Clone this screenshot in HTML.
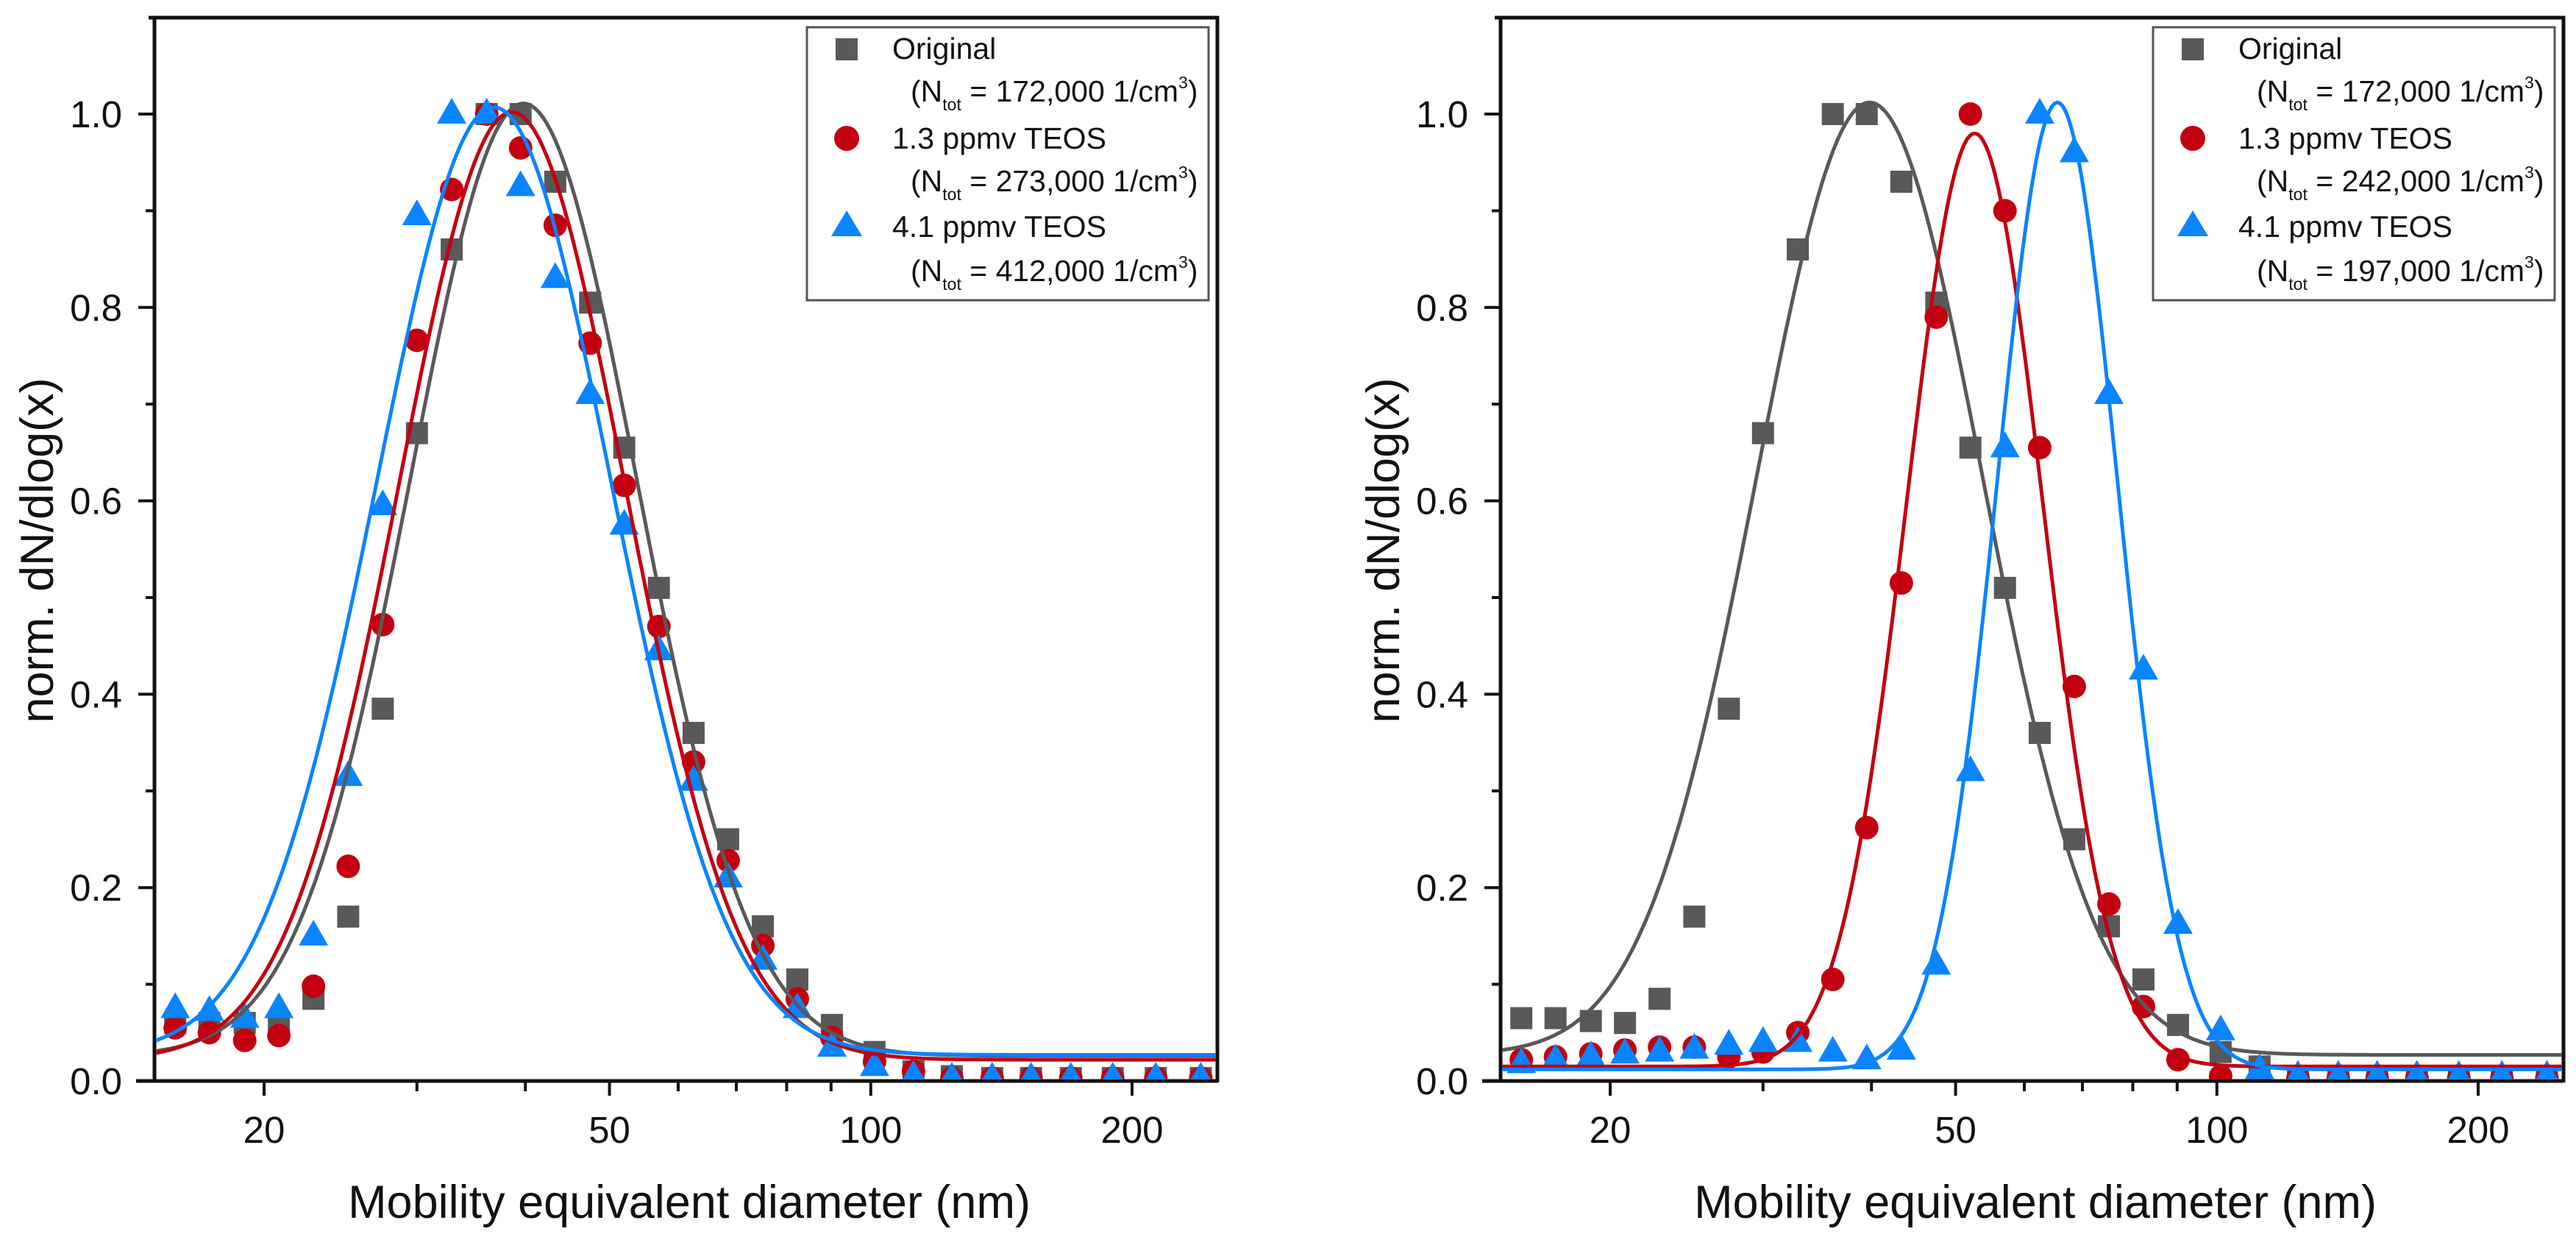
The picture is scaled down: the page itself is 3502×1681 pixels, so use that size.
<!DOCTYPE html>
<html><head><meta charset="utf-8"><style>
html,body{margin:0;padding:0;background:#fff;}
svg{display:block;font-family:"Liberation Sans",Arial,sans-serif;}
</style></head><body>
<svg id="chart" width="3502" height="1681" viewBox="0 0 3502 1681" xmlns="http://www.w3.org/2000/svg">
<defs>
<clipPath id="clipL"><rect x="212" y="26" width="1441" height="1441"/></clipPath>
<clipPath id="clipR"><rect x="2042" y="26" width="1441" height="1441"/></clipPath>
</defs>
</svg>
<script>
// ---- data (diameters in nm, normalized dN/dlog(x)) ----
const diameters = [15.8,17.3,19.0,20.8,22.8,25.0,27.4,30.0,32.9,36.1,39.5,43.3,47.5,52.0,57.0,62.5,68.5,75.1,82.3,90.2,101,112,124,138,153,170,190,213,240];
const leftOriginal = [0.06,0.06,0.06,0.06,0.085,0.17,0.385,0.67,0.86,1.0,1.0,0.93,0.805,0.655,0.51,0.36,0.25,0.16,0.105,0.058,0.03,0.01,0.005,0.003,0.003,0.003,0.003,0.003,0.003];
const leftTeos13 = [0.055,0.05,0.042,0.047,0.098,0.222,0.472,0.766,0.922,1.0,0.965,0.885,0.763,0.616,0.47,0.33,0.228,0.14,0.085,0.045,0.02,0.01,0.003,0.003,0.003,0.003,0.003,0.003,0.003];
const leftTeos41 = [0.075,0.072,0.065,0.075,0.15,0.315,0.595,0.895,1.0,1.0,0.925,0.83,0.71,0.575,0.445,0.31,0.21,0.125,0.075,0.035,0.015,0.005,0.003,0.003,0.003,0.003,0.003,0.003,0.003];
const rightOriginal = [0.065,0.065,0.062,0.06,0.085,0.17,0.385,0.67,0.86,1.0,1.0,0.93,0.805,0.655,0.51,0.36,0.25,0.16,0.105,0.058,0.03,0.015,0.005,0.003,0.003,0.003,0.003,0.003,0.003];
const rightTeos13 = [0.022,0.025,0.028,0.032,0.035,0.035,0.025,0.03,0.05,0.105,0.262,0.515,0.79,1.0,0.90,0.655,0.408,0.183,0.077,0.022,0.005,0.003,0.003,0.003,0.003,0.003,0.003,0.003,0.003];
const rightTeos41 = [0.018,0.022,0.025,0.028,0.03,0.033,0.037,0.04,0.04,0.03,0.022,0.032,0.12,0.32,0.655,1.0,0.96,0.71,0.425,0.162,0.052,0.012,0.005,0.005,0.005,0.005,0.005,0.005,0.005];
// lognormal fit parameters: [xc, w, A, y0]
const fitLeftOriginal = [39.8,0.30,0.985,0.026];
const fitLeftTeos13 = [38.6,0.30,0.98,0.022];
const fitLeftTeos41 = [36.8,0.31,0.98,0.027];
const fitRightOriginal = [39.8,0.30,0.985,0.027];
const fitRightTeos13 = [52.6,0.18,0.965,0.015];
const fitRightTeos41 = [65.5,0.16,1.0,0.012];
const xTicksMajor = [20,50,100,200];
const xTickLabels = ["20","50","100","200"];
const xTicksMinor = [30,40,60,70,80,90];
const yTicksMajor = [0,0.2,0.4,0.6,0.8,1.0];
const yTickLabels = ["0.0","0.2","0.4","0.6","0.8","1.0"];
const yTicksMinor = [0.1,0.3,0.5,0.7,0.9];
const legendLeft = ["172,000","273,000","412,000"];
const legendRight = ["172,000","242,000","197,000"];

const NS="http://www.w3.org/2000/svg";
const svg=document.getElementById('chart');
const GRAY="#595959", RED="#c3000f", BLUE="#0a84ff";
function mk(tag,attrs,parent){const e=document.createElementNS(NS,tag);for(const k in attrs)e.setAttribute(k,attrs[k]);(parent||svg).appendChild(e);return e;}

function drawPanel(off, name, sq, ci, tr, fO, f13, f41, leg, clip){
  const g=mk('g',{});
  
  
  const X0=210+off, XR=1655+off, YT=24, YB=1469;
  const xs=d=>X0+149+(Math.log10(d)-Math.log10(20))*1180;
  const ys=v=>YB-v*1314;
  // axes
  const ax=mk('path',{d:`M${X0-25} ${YB} H${XR} M${X0} ${YB} V${YT} M${X0-8} ${YT} H${XR} V${YB+2}`,stroke:"#111",'stroke-width':5,fill:"none"},g);
  
  
  // y ticks
  yTicksMajor.forEach((v,i)=>{
    const t=mk('line',{x1:X0-22,x2:X0,y1:ys(v),y2:ys(v),stroke:"#111",'stroke-width':4},g);
    
    
    const l=mk('text',{x:X0-44,y:ys(v)+18,'text-anchor':'end','font-size':51,fill:"#111"},g);
    l.textContent=yTickLabels[i];
    
    
  });
  yTicksMinor.forEach(v=>{
    const t=mk('line',{x1:X0-12,x2:X0,y1:ys(v),y2:ys(v),stroke:"#111",'stroke-width':4},g);
    
    
  });
  xTicksMajor.forEach((d,i)=>{
    const t=mk('line',{x1:xs(d),x2:xs(d),y1:YB,y2:YB+20,stroke:"#111",'stroke-width':4},g);
    
    
    const l=mk('text',{x:xs(d),y:1553,'text-anchor':'middle','font-size':51,fill:"#111"},g);
    l.textContent=xTickLabels[i];
    
    
  });
  xTicksMinor.forEach(d=>{
    const t=mk('line',{x1:xs(d),x2:xs(d),y1:YB,y2:YB+14,stroke:"#111",'stroke-width':4},g);
    
    
  });
  // titles
  const xt=mk('text',{x:937+off,y:1655,'text-anchor':'middle','font-size':63,fill:"#111"},g);
  xt.textContent="Mobility equivalent diameter (nm)";
  
  
  const yt=mk('text',{x:0,y:0,'text-anchor':'middle','font-size':63,fill:"#111",transform:`translate(${72+off},748) rotate(-90)`},g);
  yt.textContent="norm. dN/dlog(x)";
  
  
  // markers
  const pg=mk('g',{'clip-path':`url(#${clip})`},g);
  
  
  diameters.forEach((d,i)=>{
    const m=mk('rect',{x:xs(d)-15,y:ys(sq[i])-15,width:30,height:30,fill:GRAY},pg);
    
    
  });
  diameters.forEach((d,i)=>{
    const m=mk('circle',{cx:xs(d),cy:ys(ci[i]),r:16,fill:RED},pg);
    
    
  });
  diameters.forEach((d,i)=>{
    const cx=xs(d), cy=ys(tr[i]);
    const m=mk('polygon',{points:`${cx-20},${cy+13} ${cx+20},${cy+13} ${cx},${cy-22}`,fill:BLUE},pg);
    
    
  });
  // fit curves
  [[fO,GRAY,'original-fit'],[f13,RED,'teos-1-3-fit'],[f41,BLUE,'teos-4-1-fit']].forEach(([p,c,n])=>{
    let s="";
    for(let k=0;k<=400;k++){
      const lx=Math.log10(15)+k/400*(Math.log10(252)-Math.log10(15));
      const d=Math.pow(10,lx);
      const L=Math.log(d/p[0]);
      const v=p[3]+p[2]*Math.exp(-L*L/(2*p[1]*p[1]));
      s+=(k?"L":"M")+xs(d).toFixed(1)+" "+ys(v).toFixed(1);
    }
    const pl=mk('path',{d:s,stroke:c,'stroke-width':5,fill:"none"},pg);
    
    
  });
  // legend
  const lg=mk('g',{},g);
  
  
  mk('rect',{x:1097+off,y:37,width:546,height:371,fill:"#fff",stroke:"#555",'stroke-width':3},lg);
  const labels=["Original","1.3 ppmv TEOS","4.1 ppmv TEOS"];
  const base=[80,202,322], nbase=[138,260,382];
  const mx=1151+off;
  mk('rect',{x:mx-15,y:52,width:30,height:30,fill:GRAY},lg);
  mk('circle',{cx:mx,cy:188,r:17,fill:RED},lg);
  mk('polygon',{points:`${mx-21},${321} ${mx+21},${321} ${mx},${286}`,fill:BLUE},lg);
  labels.forEach((t,i)=>{
    const e=mk('text',{x:1213+off,y:base[i],'font-size':41,fill:"#111"},lg);
    e.textContent=t;
    
    
    const n=mk('text',{x:1238+off,y:nbase[i],'font-size':41,fill:"#111"},lg);
    
    
    n.innerHTML=`(N<tspan font-size="23" dy="12">tot</tspan><tspan dy="-12"> = ${leg[i]} 1/cm</tspan><tspan font-size="23" dy="-18">3</tspan><tspan dy="18">)</tspan>`;
  });
}
drawPanel(0,'left-panel',leftOriginal,leftTeos13,leftTeos41,fitLeftOriginal,fitLeftTeos13,fitLeftTeos41,legendLeft,'clipL');
drawPanel(1830,'right-panel',rightOriginal,rightTeos13,rightTeos41,fitRightOriginal,fitRightTeos13,fitRightTeos41,legendRight,'clipR');
</script>
</body></html>
